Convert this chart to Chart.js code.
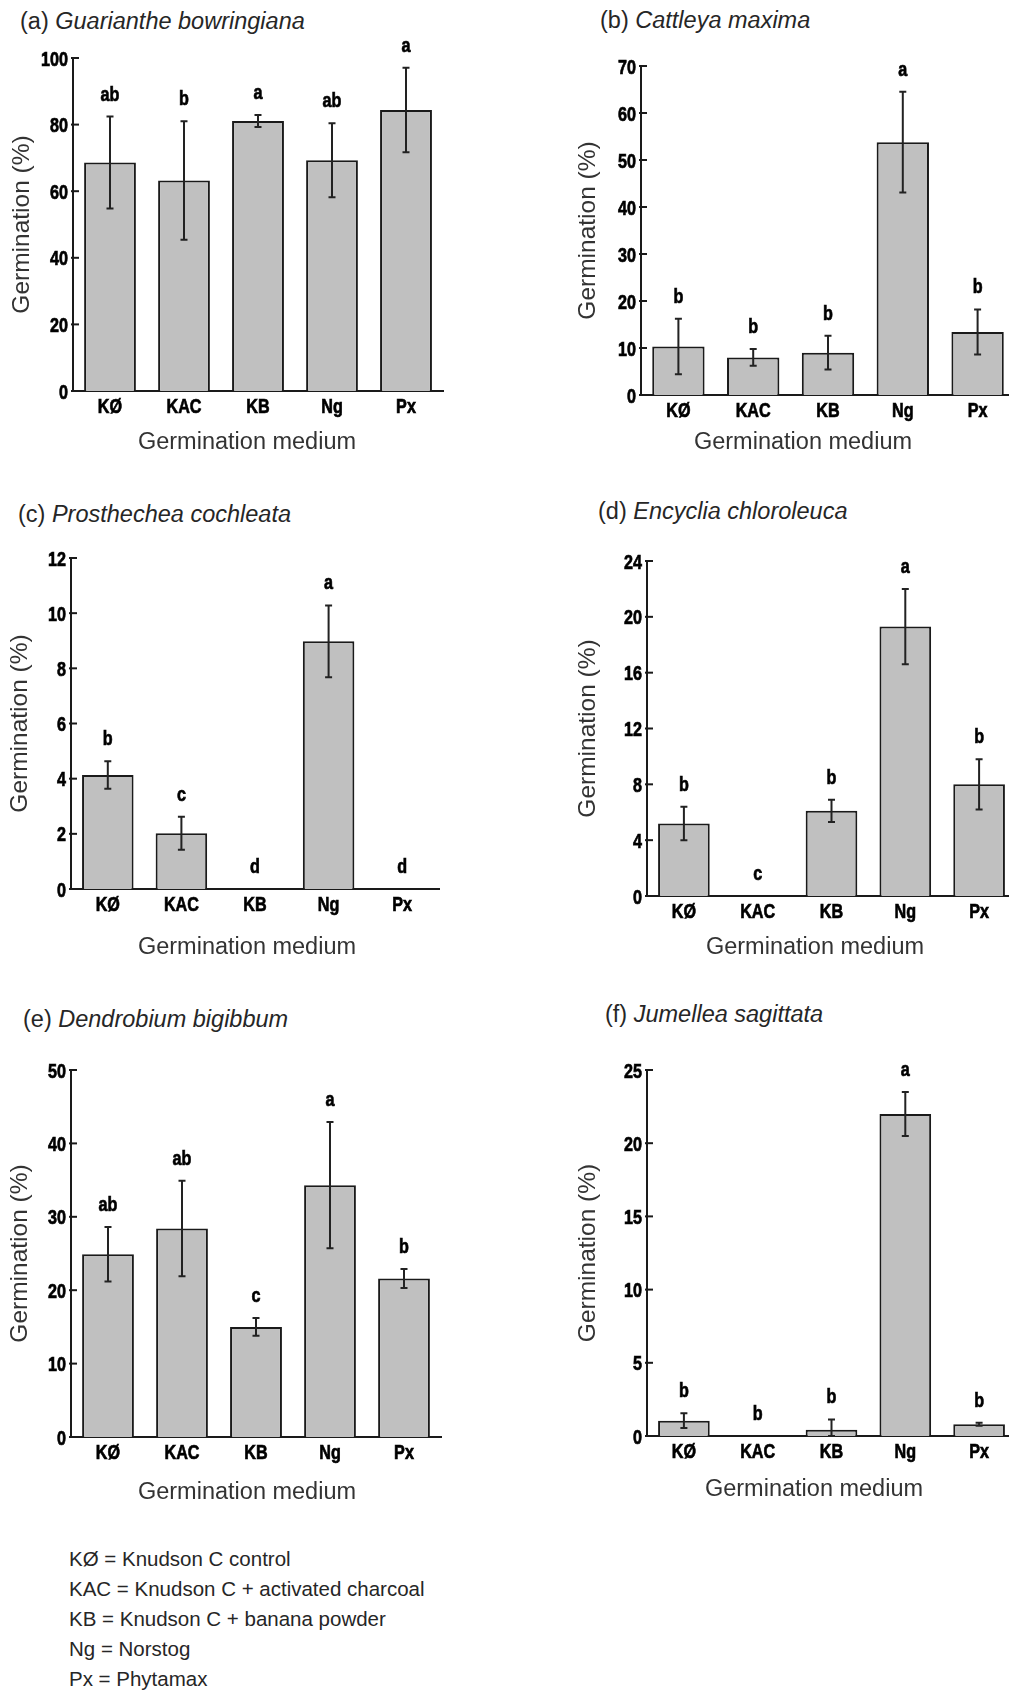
<!DOCTYPE html>
<html>
<head>
<meta charset="utf-8">
<title>Germination by medium</title>
<script src="https://cdn.jsdelivr.net/npm/chart.js@4.4.1/dist/chart.umd.min.js"></script>
<style>
  html, body { margin: 0; padding: 0; background: #fff; }
  body {
    width: 1009px; height: 1691px; position: relative; overflow: hidden;
    font-family: 'Liberation Sans', Arial, Helvetica, sans-serif; color: #262626;
  }
  .panel-title { position: absolute; font-size: 23.5px; line-height: 28px; white-space: nowrap; }
  .box { position: absolute; }
  #key { position: absolute; left: 69px; top: 1544px; font-size: 20.5px; line-height: 30px; white-space: nowrap; }
</style>
</head>
<body>
<div id="key">
  <div>KØ = Knudson C control</div>
  <div>KAC = Knudson C + activated charcoal</div>
  <div>KB = Knudson C + banana powder</div>
  <div>Ng = Norstog</div>
  <div>Px = Phytamax</div>
</div>
<script>
// categories
const media = ['KØ', 'KAC', 'KB', 'Ng', 'Px'];
const panelTags = ['(a)', '(b)', '(c)', '(d)', '(e)', '(f)'];
const species = ['Guarianthe bowringiana', 'Cattleya maxima', 'Prosthechea cochleata',
                 'Encyclia chloroleuca', 'Dendrobium bigibbum', 'Jumellea sagittata'];

// y ticks
const yMax = [100, 70, 12, 24, 50, 25];
const yStep = [20, 10, 2, 4, 10, 5];

// mean germination (%), error and letters
const meanA = [68.6, 63.2, 81.1, 69.3, 84.4];
const errA = [13.8, 17.8, 1.8, 11.1, 12.7];
const lettersA = ['ab', 'b', 'a', 'ab', 'a'];

const meanB = [10.3, 8.0, 9.0, 53.8, 13.4];
const errB = [5.9, 1.8, 3.6, 10.7, 4.8];
const lettersB = ['b', 'b', 'b', 'a', 'b'];

const meanC = [4.13, 2.02, 0, 8.98, 0];
const errC = [0.5, 0.6, 0, 1.3, 0];
const lettersC = ['b', 'c', 'd', 'a', 'd'];

const meanD = [5.2, 0, 6.1, 19.3, 8.0];
const errD = [1.2, 0, 0.8, 2.7, 1.8];
const lettersD = ['b', 'c', 'b', 'a', 'b'];

const meanE = [24.9, 28.4, 15.0, 34.3, 21.6];
const errE = [3.7, 6.5, 1.2, 8.6, 1.3];
const lettersE = ['ab', 'ab', 'c', 'a', 'b'];

const meanF = [1.05, 0, 0.43, 22.0, 0.8];
const errF = [0.5, 0, 0.7, 1.5, 0.1];
const lettersF = ['b', 'b', 'b', 'a', 'b'];

const means = [meanA, meanB, meanC, meanD, meanE, meanF];
const errs = [errA, errB, errC, errD, errE, errF];
const letters = [lettersA, lettersB, lettersC, lettersD, lettersE, lettersF];

// page layout of each panel: canvas box, plot area [left, top, right, bottom], titles
const boxes = [
  { left: 0,   top: 30,   w: 470, h: 440, area: [73, 58, 443, 391],    yTitleX: 22, xTitle: [247, 443],  title: [20, 7] },
  { left: 560, top: 30,   w: 470, h: 440, area: [641, 66, 1015, 395],  yTitleX: 588, xTitle: [803, 443], title: [600, 6] },
  { left: 0,   top: 530,  w: 470, h: 440, area: [71, 558, 439, 889],   yTitleX: 20, xTitle: [247, 948],  title: [18, 500] },
  { left: 560, top: 530,  w: 470, h: 440, area: [647, 561, 1016, 896], yTitleX: 588, xTitle: [815, 948], title: [598, 497] },
  { left: 0,   top: 1040, w: 470, h: 480, area: [71, 1070, 441, 1437], yTitleX: 20, xTitle: [247, 1493], title: [23, 1005] },
  { left: 560, top: 1040, w: 470, h: 480, area: [647, 1070, 1016, 1436], yTitleX: 588, xTitle: [814, 1490], title: [605, 1000] }
];

const plainFont = "'Liberation Sans', Arial, Helvetica, sans-serif";
const boldFont = 'bold 21px ' + plainFont;

// the figure uses a tall condensed bold face, so squeeze the glyphs sideways
function narrowText(ctx, text, x, y, align) {
  ctx.save();
  ctx.translate(x, y);
  ctx.scale(0.77, 1);
  ctx.font = boldFont;
  ctx.fillStyle = '#000';
  ctx.strokeStyle = '#000';
  ctx.lineWidth = 0.7;
  ctx.textAlign = align;
  ctx.textBaseline = 'alphabetic';
  ctx.fillText(text, 0, 0);
  ctx.strokeText(text, 0, 0);
  ctx.restore();
}

// error bars, significance letters, tick marks/labels and the x axis title
function makeExtras(mean, err, lets, box) {
  return {
    id: 'extras',
    afterDatasetsDraw(chart) {
      const ctx = chart.ctx;
      const y = chart.scales.y;
      const bars = chart.getDatasetMeta(0).data;
      ctx.save();
      ctx.strokeStyle = '#222';
      ctx.lineWidth = 2;
      bars.forEach((bar, i) => {
        if (err[i] > 0) {
          const hi = y.getPixelForValue(mean[i] + err[i]);
          const lo = y.getPixelForValue(Math.max(mean[i] - err[i], 0));
          ctx.beginPath();
          ctx.moveTo(bar.x, hi); ctx.lineTo(bar.x, lo);
          ctx.moveTo(bar.x - 3.5, hi); ctx.lineTo(bar.x + 3.5, hi);
          ctx.moveTo(bar.x - 3.5, lo); ctx.lineTo(bar.x + 3.5, lo);
          ctx.stroke();
        }
        const topPx = y.getPixelForValue(mean[i] + err[i]);
        narrowText(ctx, lets[i], bar.x, topPx - 16, 'center');
      });
      ctx.restore();
    },
    afterDraw(chart) {
      const ctx = chart.ctx;
      const x = chart.scales.x;
      const y = chart.scales.y;
      const ax = chart.chartArea.left;
      const ab = chart.chartArea.bottom;
      ctx.save();
      ctx.strokeStyle = '#1a1a1a';
      ctx.lineWidth = 2;
      y.ticks.forEach((t, k) => {
        const py = y.getPixelForTick(k);
        ctx.beginPath();
        ctx.moveTo(ax - 2, py); ctx.lineTo(ax + 6, py);
        ctx.stroke();
        narrowText(ctx, String(t.value), ax - 5, py + 7.5, 'right');
      });
      x.ticks.forEach((t, k) => {
        narrowText(ctx, x.getLabelForValue(t.value), x.getPixelForTick(k), ab + 22, 'center');
      });
      ctx.fillStyle = '#333';
      ctx.font = '23.5px ' + plainFont;
      ctx.textAlign = 'center';
      ctx.textBaseline = 'middle';
      ctx.fillText('Germination medium', box.xTitle[0] - box.left, box.xTitle[1] - box.top);
      ctx.restore();
    }
  };
}

boxes.forEach((b, i) => {
  const t = document.createElement('div');
  t.className = 'panel-title';
  t.style.left = b.title[0] + 'px';
  t.style.top = b.title[1] + 'px';
  t.innerHTML = panelTags[i] + ' <i>' + species[i] + '</i>';
  document.body.appendChild(t);

  const wrap = document.createElement('div');
  wrap.className = 'box';
  wrap.style.left = b.left + 'px';
  wrap.style.top = b.top + 'px';
  wrap.style.width = b.w + 'px';
  wrap.style.height = b.h + 'px';
  const canvas = document.createElement('canvas');
  canvas.width = b.w;
  canvas.height = b.h;
  wrap.appendChild(canvas);
  document.body.appendChild(wrap);

  const [aL, aT, aR, aB] = b.area;

  new Chart(canvas, {
    type: 'bar',
    data: {
      labels: media,
      datasets: [{
        data: means[i],
        backgroundColor: '#c0c0c0',
        borderColor: '#1a1a1a',
        borderWidth: 2,
        barPercentage: 0.7,
        categoryPercentage: 1
      }]
    },
    options: {
      responsive: false,
      animation: false,
      layout: { padding: { left: 0, top: aT - b.top, right: b.left + b.w - aR, bottom: 0 } },
      plugins: { legend: { display: false }, tooltip: { enabled: false } },
      scales: {
        x: {
          z: 1,
          grid: { display: false },
          border: { display: true, color: '#1a1a1a', width: 2 },
          ticks: { display: false },
          afterFit: s => { s.height = b.top + b.h - aB; }
        },
        y: {
          z: 1,
          min: 0,
          max: yMax[i],
          grid: { display: false },
          border: { display: true, color: '#1a1a1a', width: 2 },
          ticks: { display: false, stepSize: yStep[i] },
          title: {
            display: true,
            text: 'Germination (%)',
            color: '#333',
            font: { family: plainFont, size: 24.5, lineHeight: 1.2 },
            padding: { top: b.yTitleX - b.left - 14.7, bottom: 0 }
          },
          afterFit: s => { s.width = aL - b.left; }
        }
      }
    },
    plugins: [makeExtras(means[i], errs[i], letters[i], b)]
  });
});
</script>
</body>
</html>
